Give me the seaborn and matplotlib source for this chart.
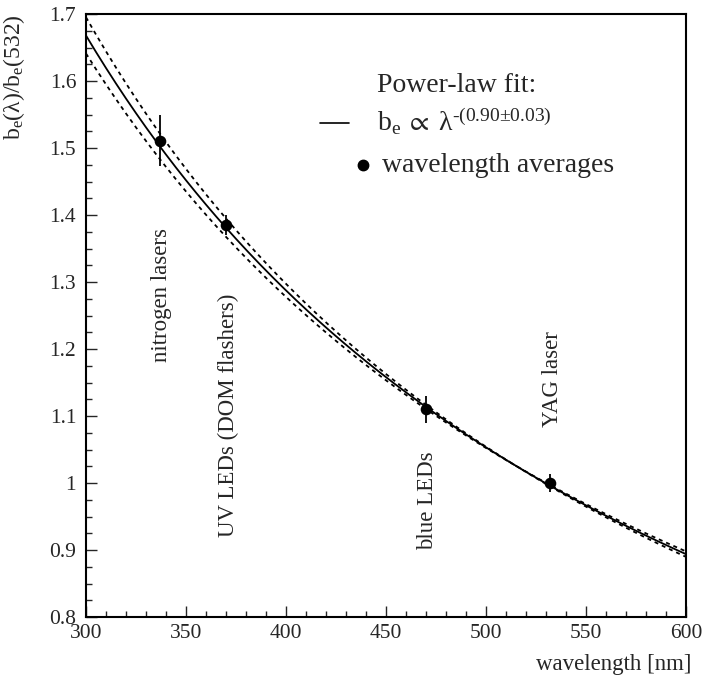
import numpy as np
import pandas as pd
import matplotlib
matplotlib.use("Agg")
import matplotlib.pyplot as plt
import seaborn as sns

# ---- data ----
wavelength = [337, 370, 470, 532]
ratio = [1.511, 1.385, 1.110, 1.000]
ratio_err = [0.038, 0.015, 0.020, 0.013]
source_labels = ["nitrogen lasers", "UV LEDs (DOM flashers)", "blue LEDs", "YAG laser"]
label_x = [338, 371, 471, 533.5]
label_y = [1.181, 0.919, 0.900, 1.084]

fit_exponent = 0.90
fit_exponent_err = 0.03
fit_norm_532 = 0.996
fit_pivot = 515.0
fit_range = [300, 600]

x_ticks = [300, 350, 400, 450, 500, 550, 600]
y_ticks = [0.8, 0.9, 1.0, 1.1, 1.2, 1.3, 1.4, 1.5, 1.6, 1.7]
y_tick_labels = ["0.8", "0.9", "1", "1.1", "1.2", "1.3", "1.4", "1.5", "1.6", "1.7"]

# ---- style ----
sns.set_style("ticks")
plt.rcParams["font.family"] = ["Liberation Serif", "DejaVu Serif"]
plt.rcParams["mathtext.fontset"] = "custom"
plt.rcParams["mathtext.rm"] = "Liberation Serif"
plt.rcParams["mathtext.it"] = "Liberation Serif:italic"
plt.rcParams["mathtext.bf"] = "Liberation Serif:bold"

fig = plt.figure(figsize=(7.10, 6.84), dpi=100)
ax = fig.add_axes([86 / 710, 1 - 617 / 684, 600 / 710, 603 / 684])

# fit curves
lam = np.linspace(fit_range[0], fit_range[1], 301)
central = fit_norm_532 * (lam / 532.0) ** (-fit_exponent)
c_piv = fit_norm_532 * (fit_pivot / 532.0) ** (-fit_exponent)
upper = c_piv * (lam / fit_pivot) ** (-(fit_exponent + fit_exponent_err))
lower = c_piv * (lam / fit_pivot) ** (-(fit_exponent - fit_exponent_err))
fit_df = pd.DataFrame({"lam": lam, "central": central, "upper": upper, "lower": lower})

sns.lineplot(data=fit_df, x="lam", y="central", ax=ax, color="black", lw=1.3)
for col in ["upper", "lower"]:
    sns.lineplot(data=fit_df, x="lam", y=col, ax=ax, color="black", lw=1.3,
                 linestyle=(0, (2.2, 2.2)))

# data points
pts = pd.DataFrame({"wavelength": wavelength, "ratio": ratio, "err": ratio_err})
ax.errorbar(pts["wavelength"], pts["ratio"], yerr=pts["err"], fmt="none",
            ecolor="black", elinewidth=1.3, capsize=0)
sns.scatterplot(data=pts, x="wavelength", y="ratio", ax=ax, color="black",
                s=70, edgecolor="black", linewidth=0, zorder=5)

# source labels (rotated)
for t, xx, yy in zip(source_labels, label_x, label_y):
    ax.text(xx, yy, t, rotation=90, ha="center", va="bottom", fontsize=16.5)

# legend (manual, ROOT style)
ax.text(0.485, 0.882, "Power-law fit:", transform=ax.transAxes, fontsize=20,
        ha="left", va="center")
ax.plot([0.390, 0.438], [0.820, 0.820], transform=ax.transAxes, color="black", lw=1.2)
ax.text(0.485, 0.823, r"$\mathregular{b_e\;\propto\;\lambda^{\text{-(0.90±0.03)}}}$",
        transform=ax.transAxes, fontsize=20, ha="left", va="center")
ax.plot([0.461], [0.749], transform=ax.transAxes, marker="o", color="black",
        markersize=7.5, linestyle="none")
ax.text(0.493, 0.749, "wavelength averages", transform=ax.transAxes, fontsize=20,
        ha="left", va="center")

# axes
ax.set_xlim(300, 600)
ax.set_ylim(0.8, 1.7)
ax.set_xticks(x_ticks)
ax.set_xticklabels([str(v) for v in x_ticks])
ax.set_yticks(y_ticks)
ax.set_yticklabels(y_tick_labels)
ax.set_xticks(np.arange(300, 601, 10), minor=True)
ax.set_yticks(np.arange(0.8, 1.7001, 0.025), minor=True)
ax.tick_params(axis="both", which="both", direction="in", top=False, right=False,
               labelsize=15.5, width=1.0)
ax.tick_params(axis="both", which="major", length=8)
ax.tick_params(axis="both", which="minor", length=4)
ax.tick_params(axis="y", pad=7)
ax.tick_params(axis="x", pad=5)
for sp in ax.spines.values():
    sp.set_visible(True)
    sp.set_linewidth(1.5)
    sp.set_color("black")

ax.set_xlabel("wavelength [nm]", fontsize=16.5)
ax.xaxis.set_label_coords(1.01, -0.062)
ax.xaxis.label.set_ha("right")
ax.set_ylabel(r"$\mathregular{b_e(\lambda)/b_e(532)}$", fontsize=17)
ax.yaxis.set_label_coords(-0.098, 1.0)
ax.yaxis.label.set_ha("right")

fig.savefig("out.png", dpi=100)
